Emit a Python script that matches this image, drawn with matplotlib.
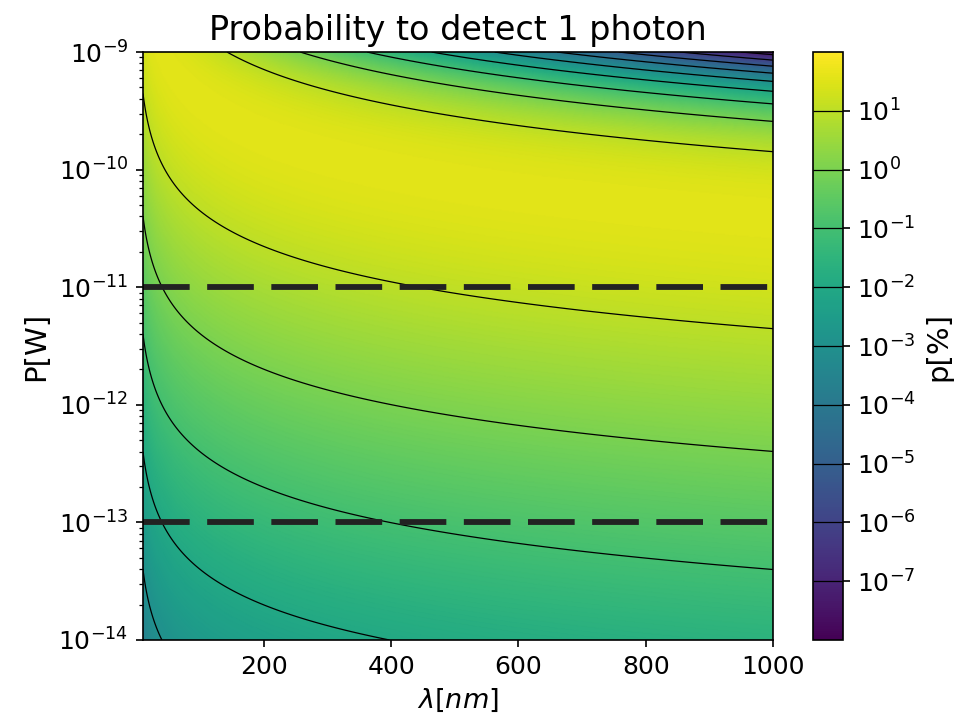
import numpy as np
import matplotlib
matplotlib.use("Agg")
import matplotlib.pyplot as plt
from matplotlib.colors import LogNorm

# physical setup: gate time and constants
gate_time = 5e-9          # s
h = 6.62607015e-34
c = 2.99792458e8

# axis ranges
lam_range = (10, 1000)    # nm
power_range = (-14, -9)   # log10 W

# contour levels (decades of p[%]) and the marked power levels
contour_levels = [1e-7, 1e-6, 1e-5, 1e-4, 1e-3, 1e-2, 1e-1, 1e0, 1e1]
cbar_ticks = [1e-7, 1e-6, 1e-5, 1e-4, 1e-3, 1e-2, 1e-1, 1e0, 1e1]
marked_powers = [1e-11, 1e-13]


def prob_one_photon(power, lam_nm):
    # Poisson probability of exactly one photon in the gate, in percent
    n = power * gate_time * lam_nm * 1e-9 / (h * c)
    return 100 * n * np.exp(-n)


def main():
    lam = np.linspace(lam_range[0], lam_range[1], 600)
    power = np.logspace(power_range[0], power_range[1], 600)
    L, P = np.meshgrid(lam, power)
    prob = prob_one_photon(P, L)

    fig = plt.figure(figsize=(961 / 150, 723 / 150), dpi=150)
    ax = fig.add_axes([0.1488, 0.1148, 0.6556, 0.8132])
    cax = fig.add_axes([0.846, 0.1148, 0.031, 0.8132])

    norm = LogNorm(vmin=1e-8, vmax=1e2)
    mesh = ax.pcolormesh(L, P, prob, norm=norm, cmap='viridis', shading='gouraud')
    cs = ax.contour(L, P, prob, levels=contour_levels, colors='k', linewidths=0.6)

    for p in marked_powers:
        ax.axhline(p, color='#222222', linewidth=2.8, linestyle=(0, (8, 3)))

    ax.set_yscale('log')
    ax.set_xlim(*lam_range)
    ax.set_ylim(10.0 ** power_range[0], 10.0 ** power_range[1])
    ax.set_xticks([200, 400, 600, 800, 1000])
    ax.tick_params(labelsize=12)
    ax.set_xlabel(r'$\lambda[nm]$', fontsize=13)
    ax.set_ylabel('P[W]', fontsize=14)
    ax.set_title('Probability to detect 1 photon', fontsize=16)

    cbar = fig.colorbar(mesh, cax=cax)
    cbar.add_lines(cs)
    cbar.set_ticks(cbar_ticks)
    cbar.ax.minorticks_off()
    cbar.ax.tick_params(labelsize=12)
    cbar.set_label('p[%]', fontsize=14)

    fig.savefig('out.png', dpi=150)


if __name__ == "__main__":
    main()
